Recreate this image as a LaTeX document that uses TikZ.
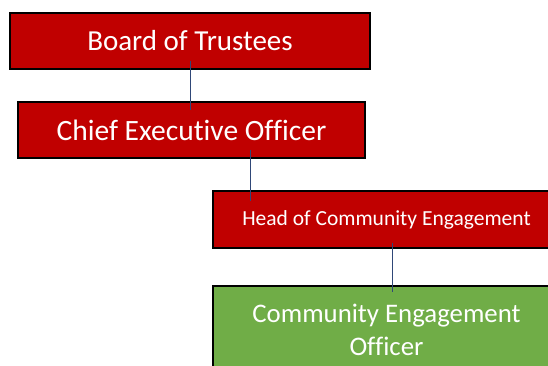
\documentclass[tikz,border=0pt]{standalone}
\usepackage{fontspec}
\setmainfont{Carlito}[Ligatures=NoCommon]
\usetikzlibrary{positioning}
\definecolor{boxred}{RGB}{192,0,0}
\definecolor{boxgreen}{RGB}{112,173,71}
\definecolor{linkblue}{RGB}{47,72,120}

\begin{document}
\begin{tikzpicture}[x=1pt,y=-1pt,
  post/.style={draw=black,line width=1.4pt,fill=boxred,text=white,inner sep=0pt,
    minimum width=347pt,minimum height=56pt,align=center},
  link/.style={draw=linkblue,line width=0.9pt}]
\useasboundingbox (0,0) rectangle (548,365);
\clip (0,0) rectangle (548,365);
\node[post,minimum width=360pt,font=\fontsize{29}{35}\selectfont] (bt) at (190,41) {Board of Trustees};
\node[post,font=\fontsize{29.5}{35}\selectfont] (ceo) at (191.5,130) {Chief Executive Officer};
\node[post,minimum height=57pt,font=\fontsize{21.5}{26}\selectfont] (hce) at (386.5,219.5) {Head of Community Engagement};
\node[post,fill=boxgreen,minimum height=88pt,font=\fontsize{26.8}{33}\selectfont] (ceng) at (386.5,330) {Community Engagement\\Officer};
%
\draw[link] ([yshift=9pt]bt.south) -- ([xshift=-1.5pt,yshift=-9pt]ceo.north);
\draw[link] ([xshift=58.5pt,yshift=9pt]ceo.south) -- ([xshift=-136.5pt,yshift=-11pt]hce.north);
\draw[link] ([xshift=5.5pt,yshift=6pt]hce.south) -- ([xshift=5.5pt,yshift=-7pt]ceng.north);
\end{tikzpicture}
\end{document}
